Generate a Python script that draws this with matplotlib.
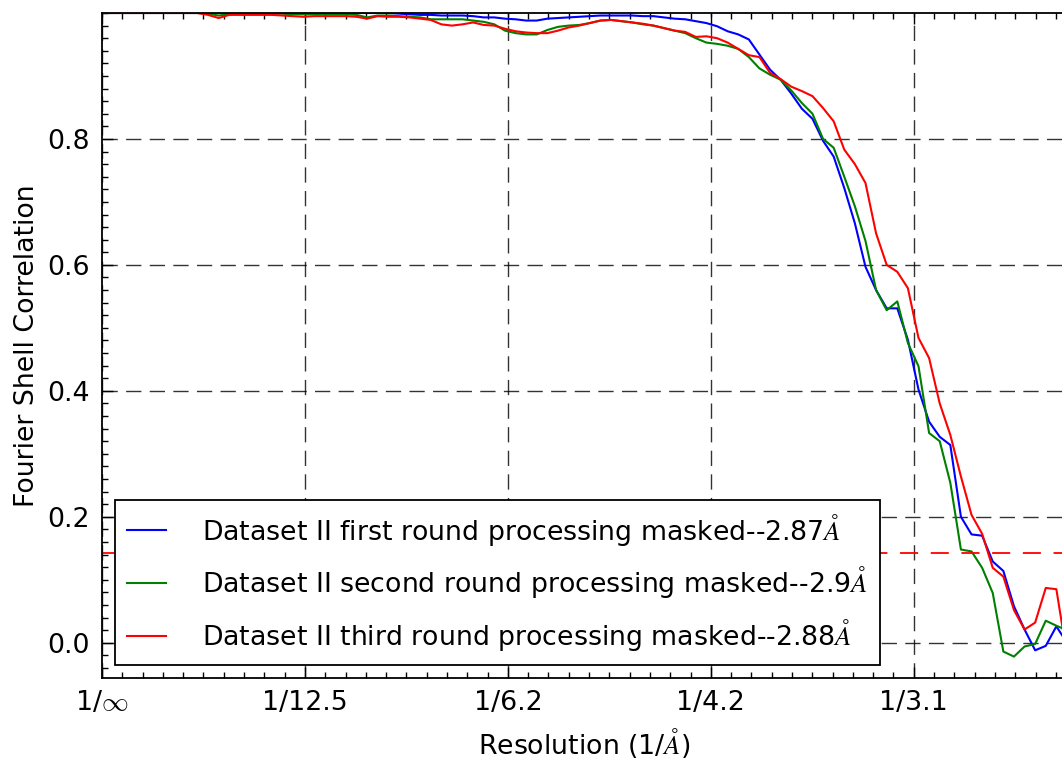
import matplotlib
matplotlib.use('Agg')
import matplotlib.pyplot as plt
from matplotlib.ticker import MultipleLocator

plt.rcParams['mathtext.fontset'] = 'cm'
plt.rcParams['font.family'] = 'DejaVu Sans'

# shell spacing in 1/A, shells 0..91
SHELL_STEP = 0.00418
n_shells = 92
freq = [i * SHELL_STEP for i in range(n_shells)]

first_round = [
    1.0, 1.0, 1.0, 1.0, 1.0, 1.0, 1.0, 1.0, 1.0, 1.0,
    1.0, 1.0, 1.0, 1.0, 1.0, 1.0, 1.0, 1.0, 1.0, 1.0,
    1.0, 1.0, 1.0, 1.0, 1.0, 1.0, 1.0, 1.0, 0.999, 0.998,
    0.997, 0.997, 0.996, 0.996, 0.996, 0.995, 0.993, 0.993, 0.991, 0.990,
    0.988, 0.988, 0.991, 0.992, 0.993, 0.994, 0.995, 0.996, 0.996, 0.996,
    0.996, 0.995, 0.995, 0.993, 0.991, 0.990, 0.987, 0.984, 0.979, 0.971,
    0.966, 0.958, 0.934, 0.910, 0.894, 0.872, 0.848, 0.832, 0.797, 0.772,
    0.722, 0.666, 0.597, 0.560, 0.531, 0.531, 0.481, 0.402, 0.351, 0.327,
    0.314, 0.200, 0.172, 0.170, 0.129, 0.114, 0.058, 0.021, -0.012, -0.005,
    0.026, 0.0,
]

second_round = [
    1.0, 1.0, 1.0, 1.0, 1.0, 1.0, 1.0, 1.0, 1.0, 1.0,
    0.999, 0.996, 0.998, 0.999, 0.999, 0.999, 0.999, 0.999, 0.998, 0.998,
    0.998, 0.998, 0.998, 0.998, 0.997, 0.993, 0.996, 0.996, 0.995, 0.994,
    0.993, 0.990, 0.990, 0.990, 0.990, 0.988, 0.986, 0.982, 0.972, 0.968,
    0.966, 0.966, 0.973, 0.978, 0.980, 0.981, 0.984, 0.988, 0.989, 0.987,
    0.985, 0.982, 0.980, 0.976, 0.972, 0.968, 0.960, 0.953, 0.951, 0.948,
    0.943, 0.930, 0.912, 0.902, 0.894, 0.877, 0.857, 0.840, 0.800, 0.786,
    0.740, 0.693, 0.638, 0.560, 0.528, 0.542, 0.476, 0.439, 0.333, 0.320,
    0.254, 0.148, 0.145, 0.119, 0.079, -0.014, -0.022, -0.006, -0.002, 0.035,
    0.027, 0.020,
]

third_round = [
    1.0, 1.0, 1.0, 1.0, 1.0, 1.0, 1.0, 1.0, 1.0, 1.0,
    0.997, 0.992, 0.997, 0.997, 0.997, 0.997, 0.997, 0.996, 0.995, 0.994,
    0.995, 0.995, 0.995, 0.995, 0.994, 0.991, 0.995, 0.994, 0.994, 0.993,
    0.991, 0.989, 0.982, 0.980, 0.982, 0.985, 0.981, 0.980, 0.975, 0.971,
    0.969, 0.968, 0.968, 0.972, 0.977, 0.980, 0.984, 0.988, 0.989, 0.987,
    0.985, 0.983, 0.980, 0.976, 0.972, 0.970, 0.962, 0.963, 0.960, 0.953,
    0.943, 0.933, 0.930, 0.905, 0.895, 0.883, 0.876, 0.868, 0.849, 0.828,
    0.783, 0.760, 0.730, 0.650, 0.600, 0.589, 0.563, 0.484, 0.452, 0.380,
    0.330, 0.264, 0.203, 0.173, 0.119, 0.105, 0.052, 0.021, 0.032, 0.087,
    0.085, -0.020,
]

labels = [
    r'Dataset II first round processing masked--2.87$\AA$',
    r'Dataset II second round processing masked--2.9$\AA$',
    r'Dataset II third round processing masked--2.88$\AA$',
]
colors = ['b', 'g', 'r']

threshold = 0.143
xtick_pos = [0.0, 0.08, 0.16, 0.24, 0.32]
xtick_labels = [r'1/$\infty$', '1/12.5', '1/6.2', '1/4.2', '1/3.1']
ytick_pos = [0.0, 0.2, 0.4, 0.6, 0.8]

FS = 19.3

fig = plt.figure(figsize=(10.62, 7.61), dpi=100)
ax = fig.add_axes([102 / 1062, 83 / 761, 964 / 1062, 665 / 761])

for ys, c, lab in zip([first_round, second_round, third_round], colors, labels):
    ax.plot(freq, ys, color=c, lw=1.5, label=lab)

ax.axhline(threshold, color='r', lw=1.3, dashes=(10, 7))

ax.set_xlim(0, 0.38)
ax.set_ylim(-0.056, 1.0)
ax.set_xticks(xtick_pos)
ax.set_xticklabels(xtick_labels)
ax.set_yticks(ytick_pos)
ax.xaxis.set_minor_locator(MultipleLocator(0.008))
ax.yaxis.set_minor_locator(MultipleLocator(0.02))
ax.tick_params(which='both', direction='in', top=True, right=False,
               labelsize=FS, width=1)
ax.tick_params(which='major', length=8, pad=9)
ax.tick_params(which='minor', length=4)
for sp in ax.spines.values():
    sp.set_linewidth(1.3)

ax.grid(True, which='major', color='k', lw=1, dashes=(11, 6), alpha=0.8)

ax.set_xlabel(r'Resolution (1/$\AA$)', fontsize=FS, labelpad=7)
ax.set_ylabel('Fourier Shell Correlation', fontsize=FS, labelpad=5)

leg = ax.legend(loc='lower left', bbox_to_anchor=(0.0135, 0.0195),
                borderaxespad=0, fontsize=FS, fancybox=False,
                framealpha=1, edgecolor='k', handlelength=1.45,
                handletextpad=1.35, labelspacing=0.62, borderpad=0.45)
leg.get_frame().set_linewidth(1.3)

fig.savefig('out.png', dpi=100)
